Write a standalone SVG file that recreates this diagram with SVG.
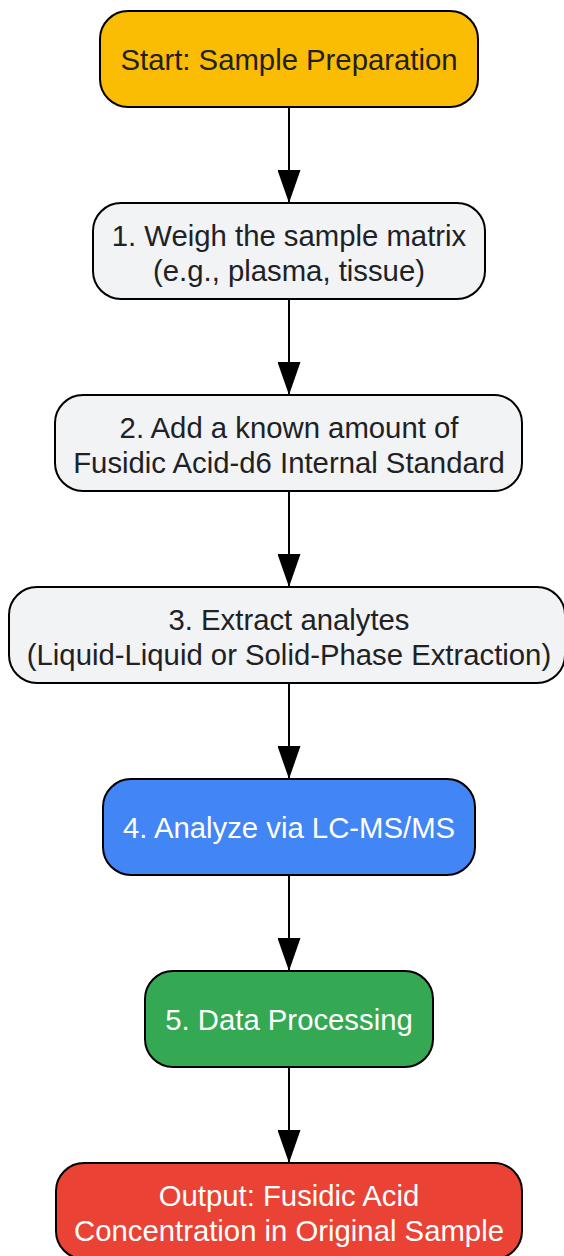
<svg xmlns="http://www.w3.org/2000/svg" width="564" height="1256" viewBox="0 0 564 1256">
<defs>
<marker id="ah" markerWidth="33" markerHeight="23" refX="33" refY="11.5" orient="auto" markerUnits="userSpaceOnUse" viewBox="0 0 33 23">
<path d="M0,0 L33,11.5 L0,23 Z" fill="#000"/>
</marker>
<style>
.n{stroke:#000;stroke-width:2}
.t{font-family:"Liberation Sans",Arial,sans-serif;font-size:29.3px;text-anchor:middle}
.d{fill:#202124}
.w{fill:#ffffff}
.e{stroke:#000;stroke-width:2;fill:none}
</style>
</defs>
<rect width="564" height="1256" fill="#ffffff"/>
<g id="connectors">
<line class="e" x1="289" y1="107" x2="289" y2="203" marker-end="url(#ah)"/>
<line class="e" x1="289" y1="299" x2="289" y2="395" marker-end="url(#ah)"/>
<line class="e" x1="289" y1="491" x2="289" y2="587" marker-end="url(#ah)"/>
<line class="e" x1="289" y1="683" x2="289" y2="779" marker-end="url(#ah)"/>
<line class="e" x1="289" y1="875" x2="289" y2="971" marker-end="url(#ah)"/>
<line class="e" x1="289" y1="1067" x2="289" y2="1163" marker-end="url(#ah)"/>
</g>
<g id="start">
<rect class="n" x="100" y="11" width="378" height="96" rx="28" fill="#FBBC04"/>
<text class="t d" x="289" y="70">Start: Sample Preparation</text>
</g>
<g id="step1">
<rect class="n" x="93" y="203" width="392" height="96" rx="28" fill="#F1F3F4"/>
<text class="t d" x="289" y="246">1. Weigh the sample matrix</text>
<text class="t d" x="289" y="281">(e.g., plasma, tissue)</text>
</g>
<g id="step2">
<rect class="n" x="55" y="395" width="467" height="96" rx="28" fill="#F1F3F4"/>
<text class="t d" x="289" y="438">2. Add a known amount of</text>
<text class="t d" x="289" y="473">Fusidic Acid-d6 Internal Standard</text>
</g>
<g id="step3">
<rect class="n" x="9" y="587" width="556" height="96" rx="28" fill="#F1F3F4"/>
<text class="t d" x="289" y="630">3. Extract analytes</text>
<text class="t d" x="289" y="665">(Liquid-Liquid or Solid-Phase Extraction)</text>
</g>
<g id="step4">
<rect class="n" x="103" y="779" width="372" height="96" rx="28" fill="#4285F4"/>
<text class="t w" x="289" y="838">4. Analyze via LC-MS/MS</text>
</g>
<g id="step5">
<rect class="n" x="145" y="971" width="288" height="96" rx="28" fill="#34A853"/>
<text class="t w" x="289" y="1030">5. Data Processing</text>
</g>
<g id="output">
<rect class="n" x="56" y="1163" width="466" height="96" rx="28" fill="#EA4335"/>
<text class="t w" x="289" y="1206">Output: Fusidic Acid</text>
<text class="t w" x="289" y="1241">Concentration in Original Sample</text>
</g>
</svg>
